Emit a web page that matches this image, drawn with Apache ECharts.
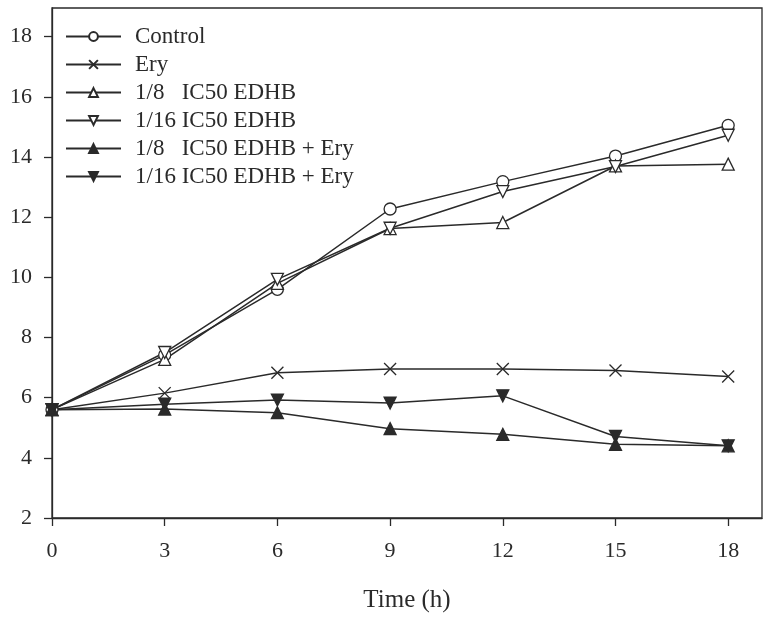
<!DOCTYPE html>
<html><head><meta charset="utf-8">
<script src="https://cdn.jsdelivr.net/npm/echarts@6/dist/echarts.min.js"></script>
<style>html,body{margin:0;padding:0;background:#fff}#c{width:770px;height:623px}</style>
</head><body><div id="c"></div>
<script>
const times = [0, 3, 6, 9, 12, 15, 18];
const xTicks = [0, 3, 6, 9, 12, 15, 18];
const yTicks = [2, 4, 6, 8, 10, 12, 14, 16, 18];
const seriesNames = ['Control', 'Ery', '1/8   IC50 EDHB', '1/16 IC50 EDHB', '1/8   IC50 EDHB + Ery', '1/16 IC50 EDHB + Ery'];
const control = [5.6, 7.42, 9.6, 12.27, 13.18, 14.03, 15.05];
const ery = [5.6, 6.15, 6.83, 6.95, 6.95, 6.9, 6.7];
const edhb8 = [5.6, 7.27, 9.8, 11.62, 11.82, 13.7, 13.76];
const edhb16 = [5.6, 7.5, 9.93, 11.63, 12.85, 13.68, 14.72];
const edhb8Ery = [5.6, 5.62, 5.5, 4.97, 4.78, 4.45, 4.4];
const edhb16Ery = [5.6, 5.78, 5.92, 5.82, 6.06, 4.71, 4.4];

const allData = [control, ery, edhb8, edhb16, edhb8Ery, edhb16Ery];
const LINE = '#2a2a2a';
const FONT = 'Liberation Serif';
const symbolDefs = [
  {symbol: 'circle', fill: '#fff', rot: 0, size: 12},
  {symbol: 'path://M0,0L10,10M10,0L0,10', fill: 'none', rot: 0, size: 12},
  {symbol: 'triangle', fill: '#fff', rot: 0, size: 12},
  {symbol: 'triangle', fill: '#fff', rot: 180, size: 12},
  {symbol: 'triangle', fill: LINE, rot: 0, size: 12},
  {symbol: 'triangle', fill: LINE, rot: 180, size: 12}
];

const series = allData.map((vals, i) => ({
  name: seriesNames[i],
  type: 'line',
  data: times.map((t, j) => [t, vals[j]]),
  symbol: symbolDefs[i].symbol,
  symbolSize: symbolDefs[i].size,
  symbolRotate: symbolDefs[i].rot,
  showAllSymbol: true,
  lineStyle: {color: LINE, width: 1.5},
  itemStyle: {color: symbolDefs[i].fill, borderColor: LINE, borderWidth: 1.3},
  emphasis: {disabled: true},
  animation: false
}));

const chart = echarts.init(document.getElementById('c'), null, {renderer: 'canvas'});
chart.setOption({
  backgroundColor: '#fff',
  animation: false,
  grid: {left: 52, right: 8, top: 8, bottom: 105, show: true, borderColor: LINE, borderWidth: 1.3, backgroundColor: 'transparent'},
  legend: {
    orient: 'vertical', left: 60, top: 20,
    itemWidth: 55, itemHeight: 11, itemGap: 5,
    textStyle: {fontFamily: FONT, fontSize: 23, color: '#2a2a2a', padding: [0, 0, 0, 9], lineHeight: 23},
    data: seriesNames
  },
  xAxis: {
    type: 'value', min: 0, max: 18.9,
    name: 'Time (h)', nameLocation: 'middle', nameGap: 70,
    nameTextStyle: {fontFamily: FONT, fontSize: 25, color: '#2a2a2a'},
    axisLine: {lineStyle: {color: LINE, width: 1.3}},
    axisTick: {show: true, length: 8, inside: false, lineStyle: {color: LINE, width: 1.3}, customValues: xTicks},
    axisLabel: {fontFamily: FONT, fontSize: 22, color: '#2a2a2a', margin: 22, customValues: xTicks},
    splitLine: {show: false}
  },
  yAxis: {
    type: 'value', min: 2, max: 18.95,
    axisLine: {lineStyle: {color: LINE, width: 1.3}},
    axisTick: {show: true, length: 8, inside: false, lineStyle: {color: LINE, width: 1.3}, customValues: yTicks},
    axisLabel: {fontFamily: FONT, fontSize: 22, color: '#2a2a2a', margin: 20, customValues: yTicks},
    splitLine: {show: false}
  },
  series: series
});
</script>
</body></html>
